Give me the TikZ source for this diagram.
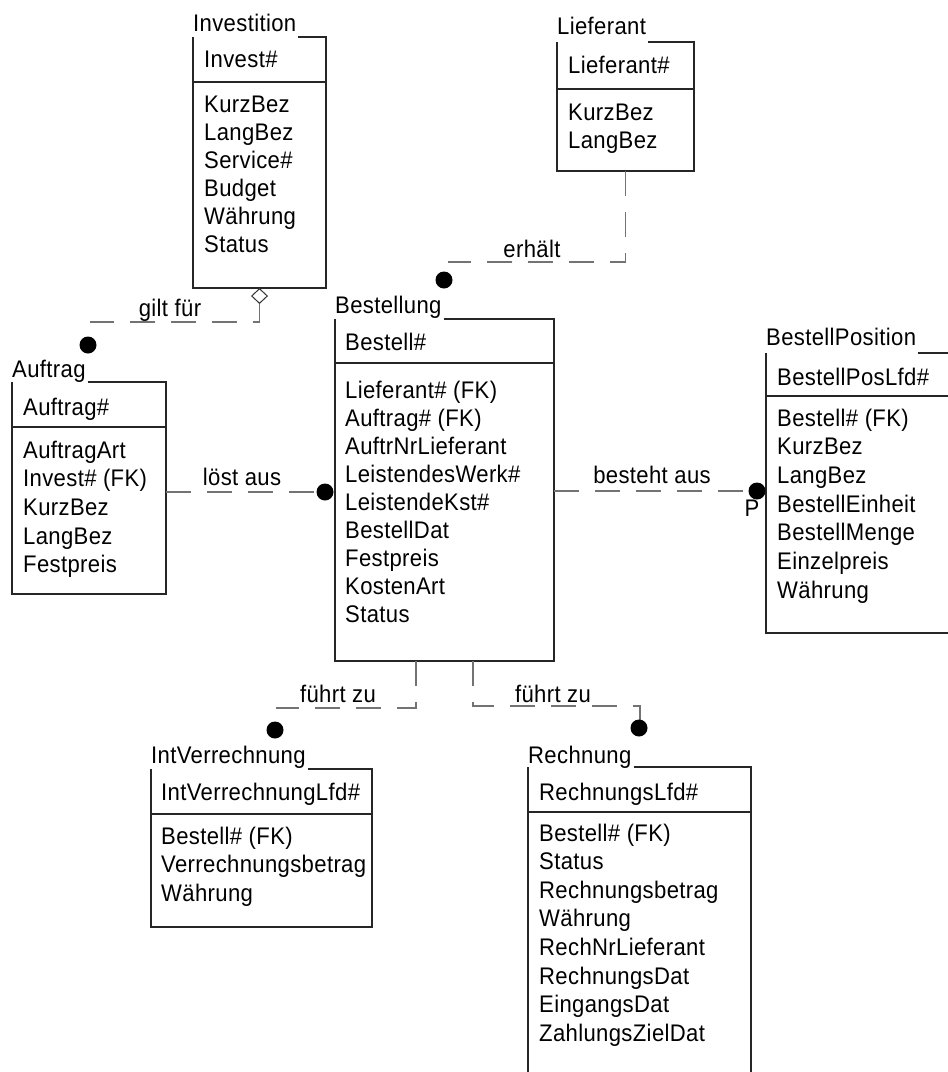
\documentclass[tikz,border=0pt]{standalone}
\usepackage{fontspec}
\setmainfont{Liberation Sans}[FakeStretch=0.92, LetterSpace=1.5]
\usetikzlibrary{shapes.geometric}

\newcommand\erfont{\fontsize{24}{28}\selectfont}

\tikzset{
  ent/.style={draw=none, rectangle, inner sep=0pt, outer sep=0pt, anchor=north west},
  etitle/.style={anchor=base west, inner sep=0pt, font=\erfont},
  eattr/.style={anchor=base west, inner sep=0pt, font=\erfont},
  border/.style={draw=black!85, line width=1.1pt},
  rel/.style={draw=black!55, line width=1.5pt, dash pattern=on 25pt off 16pt},
  dot/.style={circle, fill=black, inner sep=0pt, minimum size=17pt},
  agg/.style={diamond, draw=black!80, fill=white, line width=1pt, inner sep=0pt,
              minimum width=16pt, minimum height=15pt},
  rlabel/.style={anchor=base, inner sep=0pt, font=\erfont},
}

% frame of an entity: the top edge starts after the entity name
\newcommand\entframe[1]{%
  \draw[border] ([xshift=2pt]#1-t.east |- #1.north) -- (#1.north east)
    -- (#1.south east) -- (#1.south west) -- (#1.north west);}
\newcommand\entsep[2]{%
  \draw[border] (#1.west |- 0,#2) -- (#1.east |- 0,#2);}

\begin{document}
\begin{tikzpicture}[x=1pt, y=-1pt]
\useasboundingbox (0,0) rectangle (948,1072);
\fill[white] (0,0) rectangle (948,1072);
\clip (0,0) rectangle (948,1072);

% ---------- Investition ----------
\node[ent, minimum width=133pt, minimum height=251pt] (inv) at (193,37) {};
\node[etitle] (inv-t) at (193,31) {Investition};
\node[eattr] (inv-h) at (204,67) {Invest\#};
\foreach \t [count=\i] in {KurzBez,LangBez,Service\#,Budget,Währung,Status}
  \node[eattr] (inv-a\i) at (204,{112+28*(\i-1)}) {\t};
\entframe{inv}
\entsep{inv}{82}

% ---------- Lieferant ----------
\node[ent, minimum width=137pt, minimum height=129pt] (lief) at (557,42) {};
\node[etitle] (lief-t) at (557,34) {Lieferant};
\node[eattr] (lief-h) at (568,73) {Lieferant\#};
\foreach \t [count=\i] in {KurzBez,LangBez}
  \node[eattr] (lief-a\i) at (568,{120+28*(\i-1)}) {\t};
\entframe{lief}
\entsep{lief}{89}

% ---------- Bestellung ----------
\node[ent, minimum width=219pt, minimum height=342pt] (bes) at (335,319) {};
\node[etitle] (bes-t) at (335,313) {Bestellung};
\node[eattr] (bes-h) at (345,350) {Bestell\#};
\foreach \t [count=\i] in {Lieferant\# (FK),Auftrag\# (FK),AuftrNrLieferant,
    LeistendesWerk\#,LeistendeKst\#,BestellDat,Festpreis,KostenArt,Status}
  \node[eattr] (bes-a\i) at (345,{398+28.1*(\i-1)}) {\t};
\entframe{bes}
\entsep{bes}{363}

% ---------- Auftrag ----------
\node[ent, minimum width=154pt, minimum height=212pt] (auf) at (12,382) {};
\node[etitle] (auf-t) at (12,377) {Auftrag};
\node[eattr] (auf-h) at (23,415) {Auftrag\#};
\foreach \t [count=\i] in {AuftragArt,Invest\# (FK),KurzBez,LangBez,Festpreis}
  \node[eattr] (auf-a\i) at (23,{458+28.7*(\i-1)}) {\t};
\entframe{auf}
\entsep{auf}{427}

% ---------- BestellPosition ----------
\node[ent, minimum width=200pt, minimum height=280pt] (pos) at (766,353) {};
\node[etitle] (pos-t) at (766,345) {BestellPosition};
\node[eattr] (pos-h) at (777,385) {BestellPosLfd\#};
\foreach \t [count=\i] in {Bestell\# (FK),KurzBez,LangBez,BestellEinheit,
    BestellMenge,Einzelpreis,Währung}
  \node[eattr] (pos-a\i) at (777,{426+28.7*(\i-1)}) {\t};
\entframe{pos}
\entsep{pos}{396}

% ---------- IntVerrechnung ----------
\node[ent, minimum width=221pt, minimum height=158pt] (iv) at (151,769) {};
\node[etitle] (iv-t) at (151,763) {IntVerrechnung};
\node[eattr] (iv-h) at (161,800) {IntVerrechnungLfd\#};
\foreach \t [count=\i] in {Bestell\# (FK),Verrechnungsbetrag,Währung}
  \node[eattr] (iv-a\i) at (161,{844+28.5*(\i-1)}) {\t};
\entframe{iv}
\entsep{iv}{814}

% ---------- Rechnung ----------
\node[ent, minimum width=223pt, minimum height=340pt] (re) at (528,767) {};
\node[etitle] (re-t) at (528,763) {Rechnung};
\node[eattr] (re-h) at (539,800) {RechnungsLfd\#};
\foreach \t [count=\i] in {Bestell\# (FK),Status,Rechnungsbetrag,Währung,
    RechNrLieferant,RechnungsDat,EingangsDat,ZahlungsZielDat}
  \node[eattr] (re-a\i) at (539,{841+28.6*(\i-1)}) {\t};
\entframe{re}
\entsep{re}{812}

% ---------- relationships ----------
% Investition -- Auftrag (gilt für)
\node[agg, anchor=north] (inv-agg) at (inv.south) {};
\coordinate (gilt-end) at (90,322);
\draw[rel] (inv-agg.south) |- (gilt-end);
\node[dot] (auf-dot) at (88,345) {};
\node[rlabel] (gilt-l) at (170,316) {gilt für};

% Lieferant -- Bestellung (erhält)
\coordinate (erh-end) at (448,262);
\draw[rel] (lief.south) |- (erh-end);
\node[dot] (bes-dot1) at (444,280) {};
\node[rlabel] (erh-l) at (532,257) {erhält};

% Auftrag -- Bestellung (löst aus)
\coordinate (bes-dot2-pos) at (325,492);
\draw[rel] (auf.east |- bes-dot2-pos) -- (bes-dot2-pos);
\node[dot] (bes-dot2) at (bes-dot2-pos) {};
\node[rlabel] (los-l) at (242,485) {löst aus};

% Bestellung -- BestellPosition (besteht aus)
\coordinate (pos-dot-pos) at (757,491);
\draw[rel] (bes.east |- pos-dot-pos) -- (pos-dot-pos);
\node[dot] (pos-dot) at (pos-dot-pos) {};
\node[rlabel] (bst-l) at (652,483) {besteht aus};
\node[rlabel] (pos-p) at (752,516) {P};

% Bestellung -- IntVerrechnung (führt zu)
\coordinate (fz1-end) at (276,708);
\draw[rel] ([xshift=-28.5pt]bes.south) |- (fz1-end);
\node[dot] (iv-dot) at (275,730) {};
\node[rlabel] (fz1-l) at (338,702) {führt zu};

% Bestellung -- Rechnung (führt zu)
\coordinate (fz2-end) at (640,721);
\draw[rel] ([xshift=28.5pt]bes.south) -- ++(0,45) -| (fz2-end);
\node[dot] (re-dot) at (639,728) {};
\node[rlabel] (fz2-l) at (553,702) {führt zu};
\end{tikzpicture}
\end{document}
